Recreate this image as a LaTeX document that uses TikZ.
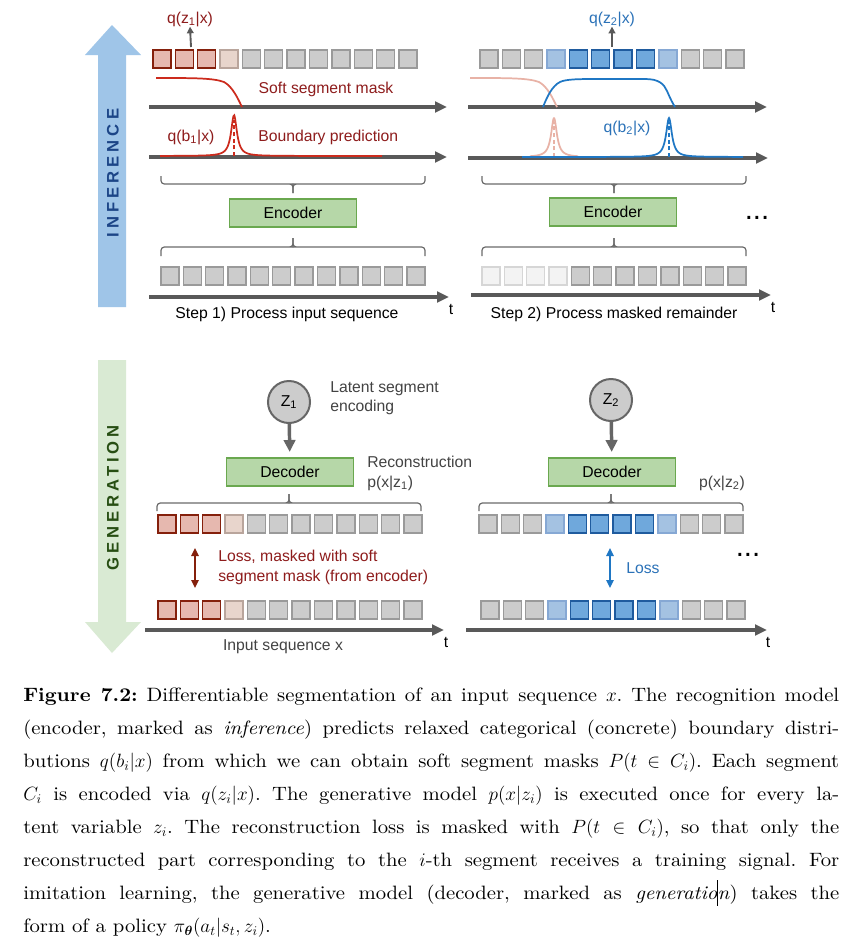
\documentclass[tikz,border=0pt]{standalone}
\usepackage{amsmath}
\usepackage{fontspec}
\usetikzlibrary{arrows.meta}
\newfontfamily\dsans{Liberation Sans}
\newfontfamily\spacedsans[LetterSpace=24]{Liberation Sans}
\newfontfamily\capfont{lmroman10-regular}[Extension=.otf,BoldFont=lmroman10-bold,ItalicFont=lmroman10-italic,FakeStretch=1.07]
\definecolor{axisg}{HTML}{595959}
\definecolor{dred}{HTML}{85200C}
\definecolor{redtxt}{HTML}{8E1C1C}
\definecolor{redcurve}{HTML}{CC2B1D}
\definecolor{pinkc}{HTML}{E8B2A6}
\definecolor{bluec}{HTML}{1F77C4}
\definecolor{bluetxt}{HTML}{2B72B8}
\definecolor{cred}{HTML}{E6B8AF}
\definecolor{cpale}{HTML}{E8D5CC}
\definecolor{cpaleb}{HTML}{B9A59C}
\definecolor{cgrey}{HTML}{CCCCCC}
\definecolor{cgreyb}{HTML}{9A9A9A}
\definecolor{clb}{HTML}{A4C2E2}
\definecolor{clbb}{HTML}{86A8D4}
\definecolor{cb}{HTML}{6FA8DC}
\definecolor{cbb}{HTML}{1F5B9E}
\definecolor{cw}{HTML}{F3F3F3}
\definecolor{cwb}{HTML}{D6D6D6}
\definecolor{encf}{HTML}{B6D7A8}
\definecolor{encb}{HTML}{6AA84F}
\definecolor{infarr}{HTML}{9FC5E8}
\definecolor{genarr}{HTML}{D9EAD3}
\definecolor{inftxt}{HTML}{1C4587}
\definecolor{gentxt}{HTML}{274E13}
\definecolor{dgrey}{HTML}{434343}
\definecolor{bracec}{HTML}{6B6B6B}
\definecolor{arrg}{HTML}{666666}
\newcommand\sqrow[4]{%
  \foreach \s [count=\i from 0] in {#4} {
    \node[sq,\s] (#1\i) at ({#2+9+\i*22.36},#3) {};
  }}
\newcommand\topbrace[3]{% left x, right x, center x
  \draw[bracel] (#1,176) |- ({#3-3},184) -| (#3,193);
  \draw[bracel] (#2,176) |- ({#3+3},184) -| (#3,193);}
\newcommand\botbrace[5]{% left, right, center, yend, ybar
  \draw[bracel] (#1,#4) |- ({#3-3},#5) -| (#3,{#5-9});
  \draw[bracel] (#2,#4) |- ({#3+3},#5) -| (#3,{#5-9});}
\begin{document}
\begin{tikzpicture}[x=0.75pt,y=-0.75pt,
  font=\dsans\fontsize{11.8}{14}\selectfont,
  sq/.style={minimum size=13.5pt,inner sep=0pt,line width=1pt},
  qgrey/.style={fill=cgrey,draw=cgreyb},
  qred/.style={fill=cred,draw=dred},
  qpale/.style={fill=cpale,draw=cpaleb},
  qlblue/.style={fill=clb,draw=clbb},
  qblue/.style={fill=cb,draw=cbb},
  qwhite/.style={fill=cw,draw=cwb},
  axis/.style={draw=axisg,line width=2.3pt,-{Triangle[length=9pt,width=8pt]}},
  bracel/.style={draw=bracec,line width=0.9pt,rounded corners=2.5pt},
  codebox/.style={fill=encf,draw=encb,line width=1pt,minimum width=95pt,minimum height=21pt,inner sep=0pt},
  latent/.style={circle,fill=cgrey,draw=arrg,line width=1.5pt,minimum size=31.5pt,inner sep=0pt},
  zarrow/.style={draw=arrg,line width=2.6pt,-{Triangle[length=9pt,width=8.5pt]},shorten >=4pt},
  qarrow/.style={draw=axisg,line width=1.4pt,-{Triangle[length=5pt,width=5pt]}},
  lossarrow/.style={line width=1.2pt,{Triangle[length=6pt,width=5.5pt]}-{Triangle[length=6pt,width=5.5pt]}},
  lbl/.style={inner sep=0pt},
  dots/.style={inner sep=0pt,font=\dsans\fontsize{22}{22}\selectfont},
  dashv/.style={line width=1.1pt,dash pattern=on 3pt off 2pt}
]
\useasboundingbox (0,0) rectangle (852,950);
\fill[white] (0,0) rectangle (852,950);

% ---------- big side arrows ----------
\fill[infarr] (112,25) -- (141,55) -- (126,55) -- (126,307) -- (98,307) -- (98,55) -- (85,55) -- cycle;
\fill[genarr] (98,360) -- (126,360) -- (126,622) -- (141,622) -- (112,653) -- (85,622) -- (98,622) -- cycle;
\node[rotate=90,text=inftxt,font=\spacedsans\bfseries\fontsize{12.5}{12}\selectfont] (inf) at (113,173) {INFERENCE};
\node[rotate=90,text=gentxt,font=\spacedsans\bfseries\fontsize{12.5}{12}\selectfont] (gen) at (113,498) {GENERATION};

% ================= TOP LEFT =================
\sqrow{tla}{153}{59}{qred,qred,qred,qpale,qgrey,qgrey,qgrey,qgrey,qgrey,qgrey,qgrey,qgrey}
\node[lbl,text=redtxt] (qz1) at (190,19) {q(z\textsubscript{1}|x)};
\coordinate (qz1s) at (191,47);
\draw[qarrow] (qz1s) -- (qz1.south);

\coordinate (a1s) at (149,107); \coordinate (a1e) at (447,107);
\draw[axis] (a1s) -- (a1e);
\draw[redcurve,line width=1.3pt] (156,78) .. controls (195,78) and (213,78) .. (224,82) .. controls (233,87) and (238,99) .. (242,107);
\node[lbl,text=redtxt] (ssm) at (326,89) {Soft segment mask};

\coordinate (a2s) at (149,157); \coordinate (a2e) at (447,157);
\draw[axis] (a2s) -- (a2e);
\draw[redcurve,line width=1.3pt] plot[domain=160:382,samples=240,smooth] (\x,{156-41/(1+((\x-234)/3.5)^2)});
\draw[redcurve,dashv] (234,156) -- (234,120);
\node[lbl,text=redtxt] (qb1) at (191,137) {q(b\textsubscript{1}|x)};
\node[lbl,text=redtxt,anchor=west] (bp) at (258,137) {Boundary prediction};

\topbrace{161}{425}{293}
\node[codebox] (enc1) at (293,213) {Encoder};
\botbrace{161}{425}{293}{256}{247}
\sqrow{tlb}{161}{276}{qgrey,qgrey,qgrey,qgrey,qgrey,qgrey,qgrey,qgrey,qgrey,qgrey,qgrey,qgrey}
\coordinate (a3s) at (149,297); \coordinate (a3e) at (449,297);
\draw[axis] (a3s) -- (a3e);
\node[lbl] (t1) at (451,309) {t};
\node[lbl] (step1) at (287,314) {Step 1) Process input sequence};

% ================= TOP RIGHT =================
\sqrow{tra}{480}{59}{qgrey,qgrey,qgrey,qlblue,qblue,qblue,qblue,qblue,qlblue,qgrey,qgrey,qgrey}
\node[lbl,text=bluetxt] (qz2) at (612,19) {q(z\textsubscript{2}|x)};
\coordinate (qz2s) at (612,47);
\draw[qarrow] (qz2s) -- (qz2.south);

\coordinate (b1s) at (468,107); \coordinate (b1e) at (767,107);
\draw[axis] (b1s) -- (b1e);
\draw[pinkc,line width=1.3pt] (470,78) .. controls (510,78) and (528,78) .. (539,82) .. controls (548,87) and (553,99) .. (557,107);
\draw[bluec,line width=1.3pt] (543,107) .. controls (547,97) and (552,86) .. (560,82) .. controls (566,79) and (580,79) .. (600,79) -- (645,79) .. controls (659,79) and (664,84) .. (667,91) .. controls (670,98) and (673,104) .. (675,107);

\coordinate (b2s) at (468,158); \coordinate (b2e) at (768,158);
\draw[axis] (b2s) -- (b2e);
\draw[pinkc,line width=1.3pt] plot[domain=530:578,samples=120,smooth] (\x,{157-39/(1+((\x-554)/3.5)^2)});
\draw[pinkc,dashv] (554,157) -- (554,122);
\draw[bluec,line width=1.3pt] plot[domain=522:743,samples=240,smooth] (\x,{157-39/(1+((\x-669)/3.5)^2)});
\draw[bluec,dashv] (669,157) -- (669,122);
\node[lbl,text=bluetxt] (qb2) at (627,128) {q(b\textsubscript{2}|x)};

\topbrace{482}{746}{614}
\node[codebox] (enc2) at (613,212) {Encoder};
\node[dots,anchor=base] (dots1) at (757,219) {...};
\botbrace{482}{746}{614}{256}{247}
\sqrow{trb}{482}{276}{qwhite,qwhite,qwhite,qwhite,qgrey,qgrey,qgrey,qgrey,qgrey,qgrey,qgrey,qgrey}
\coordinate (b3s) at (471,295); \coordinate (b3e) at (771,295);
\draw[axis] (b3s) -- (b3e);
\node[lbl] (t2) at (773,307) {t};
\node[lbl] (step2) at (614,314) {Step 2) Process masked remainder};

% ================= GENERATION LEFT =================
\node[latent] (z1) at (289,402) {Z\textsubscript{1}};
\node[lbl,text=dgrey,anchor=west,align=left,font=\dsans\fontsize{11.8}{14.3}\selectfont] (lse) at (330,398) {Latent segment\\encoding};
\node[codebox] (dec1) at (290,472) {Decoder};
\draw[zarrow] (z1) -- (dec1);
\node[lbl,text=dgrey,anchor=west,align=left,font=\dsans\fontsize{11.8}{15}\selectfont] (rec) at (367,473) {Reconstruction\\p(x|z\textsubscript{1})};
\botbrace{157}{421}{289}{511}{503}
\sqrow{gla}{158}{524}{qred,qred,qred,qpale,qgrey,qgrey,qgrey,qgrey,qgrey,qgrey,qgrey,qgrey}
\coordinate (l1t) at (195,548); \coordinate (l1b) at (195,588);
\draw[lossarrow,dred] (l1t) -- (l1b);
\node[lbl,text=redtxt,anchor=west,align=left,font=\dsans\fontsize{11.8}{15}\selectfont] (lossl) at (218,567) {Loss, masked with soft\\segment mask (from encoder)};
\sqrow{glb}{158}{610}{qred,qred,qred,qpale,qgrey,qgrey,qgrey,qgrey,qgrey,qgrey,qgrey,qgrey}
\coordinate (c1s) at (145,630); \coordinate (c1e) at (444,630);
\draw[axis] (c1s) -- (c1e);
\node[lbl] (t3) at (446,642) {t};
\node[lbl,text=dgrey] (isx) at (283,647) {Input sequence x};

% ================= GENERATION RIGHT =================
\node[latent] (z2) at (611,400) {Z\textsubscript{2}};
\node[codebox] (dec2) at (612,472) {Decoder};
\draw[zarrow] (z2) -- (dec2);
\node[lbl,text=dgrey] (pxz2) at (722,483) {p(x|z\textsubscript{2})};
\botbrace{479}{743}{611}{511}{503}
\sqrow{gra}{479}{524}{qgrey,qgrey,qgrey,qlblue,qblue,qblue,qblue,qblue,qlblue,qgrey,qgrey,qgrey}
\coordinate (l2t) at (610,548); \coordinate (l2b) at (610,588);
\draw[lossarrow,bluec] (l2t) -- (l2b);
\node[lbl,text=bluetxt,anchor=west] (lossr) at (626,568) {Loss};
\node[dots,anchor=base] (dots2) at (748,556) {...};
\sqrow{grb}{481}{610}{qgrey,qgrey,qgrey,qlblue,qblue,qblue,qblue,qblue,qlblue,qgrey,qgrey,qgrey}
\coordinate (c2s) at (466,630); \coordinate (c2e) at (767,630);
\draw[axis] (c2s) -- (c2e);
\node[lbl] (t4) at (768,642) {t};

% ================= CAPTION =================
\node[anchor=north west,inner sep=0pt,align=left,font=\capfont\fontsize{14.5}{24.75}\selectfont\frenchspacing] (cap) at (23,688) {%
\makebox[612pt][s]{\textbf{Figure 7.2:} Differentiable segmentation of an input sequence $x$. The recognition model}\\
\makebox[612pt][s]{(encoder, marked as \emph{inference}) predicts relaxed categorical (concrete) boundary distri-}\\
\makebox[612pt][s]{butions $q(b_i|x)$ from which we can obtain soft segment masks $P(t\in C_i)$. Each segment}\\
\makebox[612pt][s]{$C_i$ is encoded via $q(z_i|x)$. The generative model $p(x|z_i)$ is executed once for every la-}\\
\makebox[612pt][s]{tent variable $z_i$. The reconstruction loss is masked with $P(t\in C_i)$, so that only the}\\
\makebox[612pt][s]{reconstructed part corresponding to the $i$-th segment receives a training signal. For}\\
\makebox[612pt][s]{imitation learning, the generative model (decoder, marked as \emph{generatio\makebox[0pt]{\rule[-0.3em]{0.6pt}{1.35em}}n}) takes the}\\
form of a policy $\pi_{\boldsymbol{\theta}}(a_t|s_t,z_i)$.};
\end{tikzpicture}
\end{document}
